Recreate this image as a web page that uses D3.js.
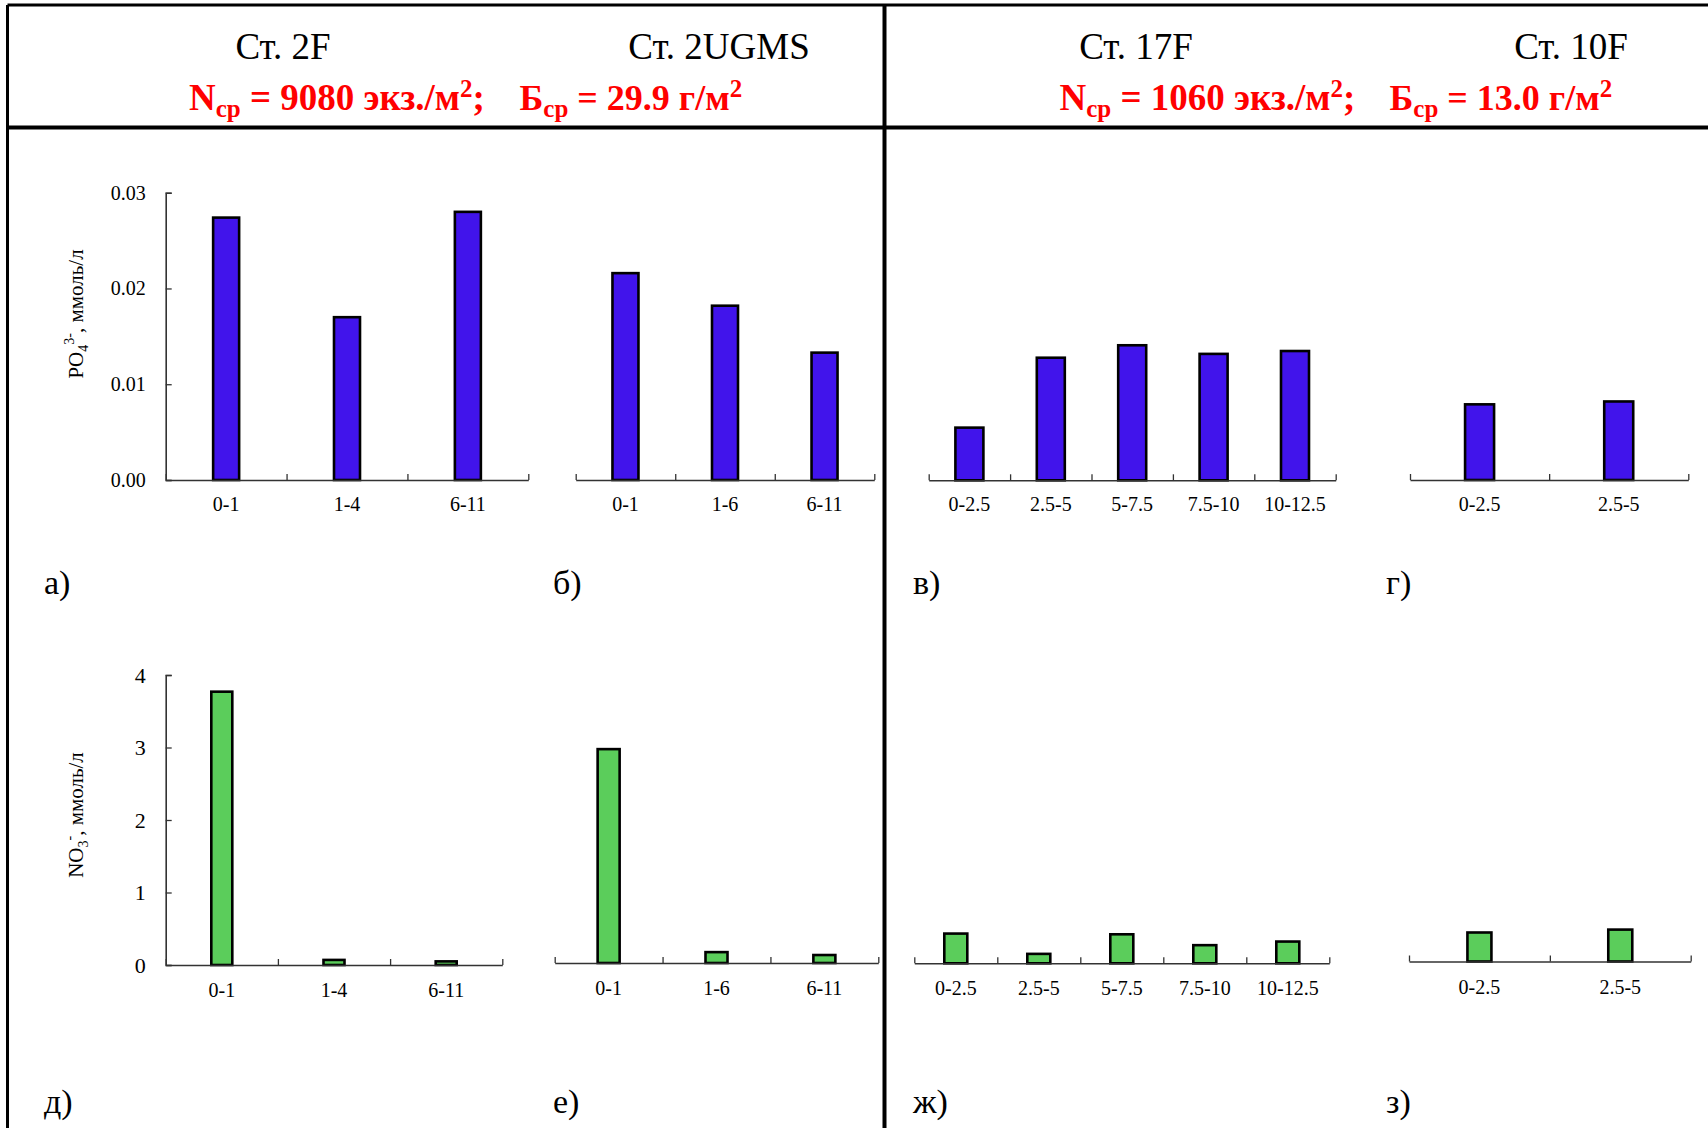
<!DOCTYPE html>
<html>
<head>
<meta charset="utf-8">
<script src="https://cdn.jsdelivr.net/npm/d3@7"></script>
<style>
  body { margin: 0; background: #fff; }
  svg { display: block; }
</style>
</head>
<body>
<div id="chart"></div>
<script>
// categories (depth layers, cm)
const cats2F = ["0-1", "1-4", "6-11"];
const cats2UGMS = ["0-1", "1-6", "6-11"];
const cats17F = ["0-2.5", "2.5-5", "5-7.5", "7.5-10", "10-12.5"];
const cats10F = ["0-2.5", "2.5-5"];

// PO4 3-, mmol/l
const po4_2F = [0.0274, 0.0170, 0.0280];
const po4_2UGMS = [0.0216, 0.0182, 0.0133];
const po4_17F = [0.0055, 0.0128, 0.0141, 0.0132, 0.0135];
const po4_10F = [0.0079, 0.0082];

// NO3 -, mmol/l
const no3_2F = [3.77, 0.07, 0.05];
const no3_2UGMS = [2.95, 0.15, 0.11];
const no3_17F = [0.41, 0.13, 0.40, 0.25, 0.30];
const no3_10F = [0.40, 0.44];

// tick labels
const po4Ticks = [0, 0.01, 0.02, 0.03];
const no3Ticks = [0, 1, 2, 3, 4];

const stations = ["Ст. 2F", "Ст. 2UGMS", "Ст. 17F", "Ст. 10F"];
const panelLetters = ["а)", "б)", "в)", "г)", "д)", "е)", "ж)", "з)"];

const W = 1708, H = 1128;
const FONT = "'Liberation Serif', 'Times New Roman', serif";
const blue = "#4114eb", green = "#5bcd5b";

const svg = d3.select("#chart").append("svg")
    .attr("width", W)
    .attr("height", H)
    .attr("font-family", FONT);

// frame lines
svg.append("line").attr("x1", 7.5).attr("x2", W).attr("y1", 5).attr("y2", 5)
    .attr("stroke", "#000").attr("stroke-width", 3);
svg.append("line").attr("x1", 7.5).attr("x2", 7.5).attr("y1", 5).attr("y2", H)
    .attr("stroke", "#000").attr("stroke-width", 3);
svg.append("line").attr("x1", 7.5).attr("x2", W).attr("y1", 127.5).attr("y2", 127.5)
    .attr("stroke", "#000").attr("stroke-width", 4);
svg.append("line").attr("x1", 884.5).attr("x2", 884.5).attr("y1", 5).attr("y2", H)
    .attr("stroke", "#000").attr("stroke-width", 4);

// header
const stationX = [283, 719, 1136, 1571];
svg.selectAll(".station")
  .data(stations)
  .join("text")
    .attr("class", "station")
    .attr("x", (d, i) => stationX[i])
    .attr("y", 59)
    .attr("text-anchor", "middle")
    .attr("font-size", 37)
    .text(d => d);

function redText(x, y, size, parts) {
  const t = svg.append("text")
      .attr("x", x).attr("y", y)
      .attr("fill", "#ff0000")
      .attr("font-weight", "bold")
      .attr("font-size", size);
  parts.forEach(p => {
    const s = t.append("tspan").text(p[0]);
    if (p[1] === "sub") s.attr("font-size", 25).attr("dy", 7);
    if (p[1] === "sup") s.attr("font-size", 25).attr("dy", -13);
    if (p[1] === "subEnd" || p[1] === "supEnd") s.attr("dy", p[1] === "subEnd" ? -7 : 13);
  });
}
redText(189, 110, 37, [["N"], ["ср", "sub"], [" = 9080 экз./м", "subEnd"], ["2", "sup"], [";", "supEnd"]]);
redText(519.5, 110, 36, [["Б"], ["ср", "sub"], [" = 29.9 г/м", "subEnd"], ["2", "sup"]]);
redText(1059.5, 110, 37, [["N"], ["ср", "sub"], [" = 1060 экз./м", "subEnd"], ["2", "sup"], [";", "supEnd"]]);
redText(1389.5, 110, 36, [["Б"], ["ср", "sub"], [" = 13.0 г/м", "subEnd"], ["2", "sup"]]);

// panel layout
const panels = [
  {cats: cats2F, vals: po4_2F, x0: 165.7, x1: 528.3, base: 480, bw: 26, row: 0, yAxis: true},
  {cats: cats2UGMS, vals: po4_2UGMS, x0: 575.7, x1: 874.3, base: 480, bw: 26, row: 0},
  {cats: cats17F, vals: po4_17F, x0: 928.7, x1: 1335.7, base: 480.3, bw: 28, row: 0},
  {cats: cats10F, vals: po4_10F, x0: 1410, x1: 1688.3, base: 480, bw: 29, row: 0},
  {cats: cats2F, vals: no3_2F, x0: 165.7, x1: 502.3, base: 965, bw: 21, row: 1, yAxis: true},
  {cats: cats2UGMS, vals: no3_2UGMS, x0: 554.7, x1: 878.3, base: 963, bw: 22, row: 1},
  {cats: cats17F, vals: no3_17F, x0: 914.3, x1: 1329.3, base: 963.3, bw: 23, row: 1},
  {cats: cats10F, vals: no3_10F, x0: 1409, x1: 1690.7, base: 961.5, bw: 24, row: 1}
];
const rowSpec = [
  {max: 0.03, h: 287.3, ticks: po4Ticks, fmt: d3.format(".2f"), color: blue, tickFont: 20, pad: 17},
  {max: 4, h: 290, ticks: no3Ticks, fmt: d3.format("d"), color: green, tickFont: 22, pad: 18}
];

panels.forEach(p => {
  const r = rowSpec[p.row];
  const g = svg.append("g");

  const x = d3.scaleBand().domain(p.cats).range([p.x0, p.x1]).padding(0);
  const y = d3.scaleLinear().domain([0, r.max]).range([p.base, p.base - r.h]);
  const idx = d3.scaleLinear().domain([0, p.cats.length]).range([p.x0, p.x1]);

  // bars
  g.selectAll("rect")
    .data(p.vals)
    .join("rect")
      .attr("x", (d, i) => x(p.cats[i]) + x.bandwidth() / 2 - p.bw / 2)
      .attr("width", p.bw)
      .attr("y", d => y(d))
      .attr("height", d => y(0) - y(d))
      .attr("fill", r.color)
      .attr("stroke", "#000")
      .attr("stroke-width", 2.6);

  // x axis: labels at band centres
  const xa = g.append("g")
      .attr("transform", `translate(0,${p.base})`)
      .call(d3.axisBottom(x).tickSize(0).tickPadding(r.pad));
  xa.attr("font-family", FONT).attr("font-size", 20);
  xa.select(".domain").attr("stroke", "#333").attr("stroke-width", 1.6);
  xa.selectAll("text").attr("fill", "#000");

  // x axis boundary ticks
  const xb = g.append("g")
      .attr("transform", `translate(0,${p.base})`)
      .call(d3.axisBottom(idx).ticks(p.cats.length).tickSize(-6).tickFormat(""));
  xb.select(".domain").remove();
  xb.selectAll("line").attr("stroke", "#333").attr("stroke-width", 1.3);

  if (p.yAxis) {
    const ya = g.append("g")
        .attr("transform", `translate(${p.x0},0)`)
        .call(d3.axisLeft(y).tickValues(r.ticks).tickFormat(r.fmt).tickSize(-6).tickPadding(20));
    ya.attr("font-family", FONT).attr("font-size", r.tickFont);
    ya.select(".domain").attr("stroke", "#333").attr("stroke-width", 1.6);
    ya.selectAll("line").attr("stroke", "#333").attr("stroke-width", 1.3);
    ya.selectAll("text").attr("fill", "#000");
  }
});

// y axis titles
function yTitle(cx, cy, parts) {
  const t = svg.append("text")
      .attr("transform", `translate(${cx},${cy}) rotate(-90)`)
      .attr("text-anchor", "middle")
      .attr("font-size", 21);
  parts.forEach(p => {
    const s = t.append("tspan").text(p[0]);
    if (p[1] === "sub") s.attr("font-size", 14).attr("baseline-shift", "-5");
    if (p[1] === "sup") s.attr("font-size", 14).attr("baseline-shift", "9");
  });
}
yTitle(83, 314, [["PO"], ["4", "sub"], ["3-", "sup"], [", ммоль/л"]]);
yTitle(83, 815, [["NO"], ["3", "sub"], ["-", "sup"], [", ммоль/л"]]);

// panel letters
const letterX = [44, 553, 913, 1386];
svg.selectAll(".letter")
  .data(panelLetters)
  .join("text")
    .attr("class", "letter")
    .attr("x", (d, i) => letterX[i % 4])
    .attr("y", (d, i) => i < 4 ? 593.5 : 1112.5)
    .attr("font-size", 34)
    .text(d => d);
</script>
</body>
</html>
